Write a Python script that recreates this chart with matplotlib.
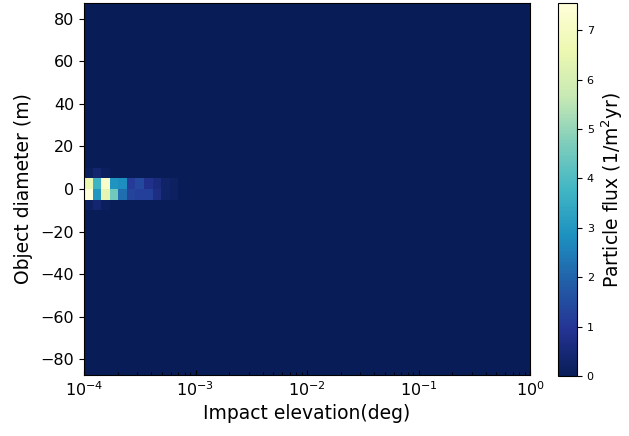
import numpy as np
import matplotlib
matplotlib.use("Agg")
import matplotlib.pyplot as plt

# bin edges
x_edges = np.logspace(-4, 0, 53)
y_edges = np.arange(-90, 95, 5)

# nonzero flux cells, read left to right starting at the first x bin
flux_0_to_5 = [6.6, 3.7, 7.2, 2.9, 2.8, 1.1, 1.4, 0.8, 0.6, 0.25, 0.15]
flux_m5_to_0 = [7.55, 3.0, 6.4, 4.5, 2.2, 1.3, 1.2, 1.2, 0.7, 0.25, 0.15]
flux_5_to_10 = [0.1, 0.35, 0.1]
flux_m10_to_m5 = [0.2, 0.4, 0.1]

flux = np.zeros((len(y_edges) - 1, len(x_edges) - 1))
for lo, vals in [(0, flux_0_to_5), (-5, flux_m5_to_0), (5, flux_5_to_10), (-10, flux_m10_to_m5)]:
    row = np.searchsorted(y_edges, lo)
    flux[row, :len(vals)] = vals

fig = plt.figure(figsize=(6.29, 4.36), dpi=100)
ax = fig.add_axes([84/629, 1 - 375/436, 446/629, 372/436])
cax = fig.add_axes([558/629, 1 - 376/436, 19/629, 373/436])

mesh = ax.pcolormesh(x_edges, y_edges, flux, cmap='YlGnBu_r', vmin=0, vmax=7.55)
ax.set_xscale('log')
ax.set_xlim(1e-4, 1)
ax.set_ylim(-87.5, 87.5)
ax.set_yticks(np.arange(-80, 81, 20))
ax.tick_params(axis='x', which='both', direction='in', labelsize=11.5)
ax.tick_params(axis='y', direction='out', labelsize=11.5)
ax.set_xlabel('Impact elevation(deg)', fontsize=13.5)
ax.set_ylabel('Object diameter (m)', fontsize=13.5, labelpad=5.5)

cb = fig.colorbar(mesh, cax=cax)
cb.set_ticks(range(0, 8))
cb.ax.tick_params(labelsize=8)
cb.set_label('Particle flux (1/m$^2$yr)', fontsize=13.5)

plt.savefig('out.png', dpi=100)
